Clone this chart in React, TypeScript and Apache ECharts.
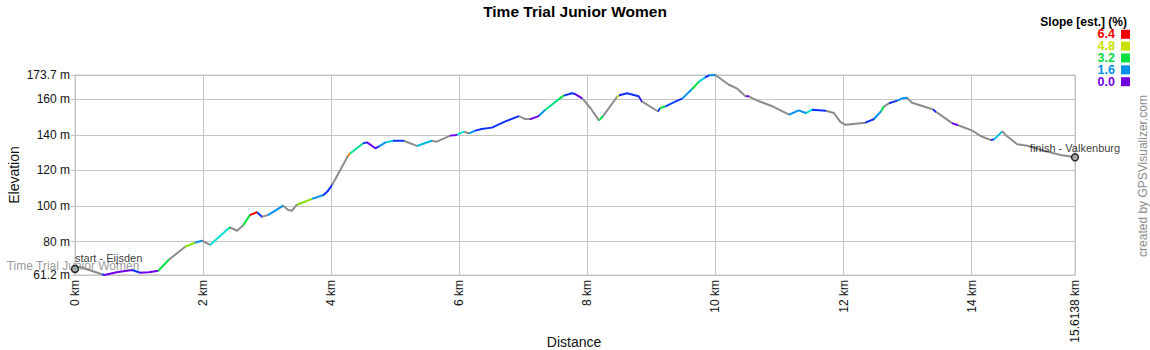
import { useEffect, useRef } from 'react';
import * as echarts from 'echarts';

// Distance along the route (km)
const distanceKm = [
  0.0, 0.07, 0.42, 0.46, 0.65, 0.89, 1.02, 1.15, 1.3, 1.46,
  1.72, 1.88, 1.98, 2.11, 2.4, 2.42, 2.53, 2.63, 2.73, 2.84,
  2.92, 3.02, 3.25, 3.33, 3.39, 3.46, 3.7, 3.88, 3.94, 4.01,
  4.27, 4.29, 4.5, 4.56, 4.69, 4.74, 4.85, 4.97, 5.13, 5.34,
  5.57, 5.65, 5.86, 5.96, 6.07, 6.15, 6.25, 6.35, 6.51, 6.72,
  6.93, 7.03, 7.11, 7.24, 7.34, 7.55, 7.63, 7.76, 7.81, 7.92,
  8.05, 8.18, 8.25, 8.46, 8.5, 8.62, 8.8, 8.85, 9.1, 9.14,
  9.22, 9.38, 9.48, 9.64, 9.74, 9.84, 9.9, 10.0, 10.21, 10.34,
  10.47, 10.52, 10.68, 10.89, 11.15, 11.3, 11.41, 11.51, 11.72, 11.85,
  11.95, 12.03, 12.34, 12.47, 12.58, 12.63, 12.71, 12.84, 12.92, 12.99,
  13.07, 13.39, 13.45, 13.7, 13.78, 14.01, 14.14, 14.3, 14.35, 14.48,
  14.53, 14.71, 14.87, 15.13, 15.39, 15.6138,
];

// Elevation (m)
const elevationM = [
  64.6, 65.8, 61.6, 61.2, 62.8, 64.0, 62.5, 62.7, 63.6, 69.6,
  77.1, 79.4, 80.5, 78.1, 87.5, 88.0, 86.1, 89.3, 94.9, 96.5,
  94.0, 95.0, 100.2, 97.8, 97.4, 100.6, 104.0, 106.2, 108.1, 111.6,
  128.7, 129.4, 135.3, 135.8, 132.5, 133.4, 135.8, 136.7, 136.7, 133.8,
  136.7, 136.2, 139.6, 140.0, 141.8, 140.9, 142.4, 143.3, 144.1, 147.6,
  150.6, 148.9, 148.9, 150.6, 154.0, 160.0, 162.1, 163.4, 163.0, 160.6,
  155.0, 148.2, 150.8, 161.2, 162.3, 163.4, 161.7, 158.9, 153.3, 155.1,
  156.1, 158.9, 160.4, 166.0, 169.8, 172.4, 173.5, 173.7, 168.2, 166.0,
  161.7, 161.7, 158.9, 156.1, 151.4, 153.8, 152.3, 154.2, 153.6, 152.3,
  147.3, 145.7, 146.9, 148.8, 153.0, 155.9, 157.8, 159.3, 160.6, 160.9,
  158.1, 154.4, 152.8, 146.5, 145.6, 142.4, 139.4, 137.1, 137.5, 142.0,
  139.9, 134.7, 133.9, 131.1, 128.7, 127.4,
];

// Estimated slope (%) of each segment, read from the line colours; null = grey
const segmentSlope: (number | null)[] = [
  2.4, null, 0.8, 0, 0, 0.8, 0, 0, 3.2, null,
  4.0, 1.6, null, 2.4, 3.2, null, null, 3.2, 6.4, 0.8,
  null, 1.6, null, null, null, 4.0, 1.6, 0.8, 0.8, null,
  5.6, 2.8, 0.8, 0, 0.4, 1.6, 2.2, 0.8, null, 2.0,
  null, null, 0, 2.4, null, 1.6, 0.8, 0.8, 0.8, 0.8,
  null, null, 0, 1.6, 2.8, 3.2, 0.8, 0.8, 0, null,
  null, 3.2, null, 4.8, 0.8, 0.8, 0.4, null, 0.8, 3.2,
  1.0, 0.8, 1.6, 3.2, 2.2, 0.8, 1.6, null, null, null,
  0, null, null, null, 1.6, 1.6, 2.4, 0.8, null, null,
  null, null, 0.8, 1.6, 3.2, null, 0.8, 1.6, 1.6, null,
  null, 0.8, null, 0, null, null, null, 0.8, 2.0, null,
  null, null, null, null, null,
];

const yTickValues = [61.2, 80, 100, 120, 140, 160, 173.7];
const legendSlopes = ['6.4', '4.8', '3.2', '1.6', '0.0'];
const legendColors = ['#ee0000', '#c8e000', '#00e040', '#0090e8', '#7000e0'];
const startName = 'start - Eijsden';
const finishName = 'finish - Valkenburg';
const trackName = 'Time Trial Junior Women';

const GRAY = '#8c8c8c';
const FONT = '"Liberation Sans", Arial, Helvetica, sans-serif';
const slopeStops: [number, string][] = [
  [0, '#7000f0'], [0.8, '#1030ff'], [1.6, '#0090f0'], [2.4, '#00e0d0'],
  [3.2, '#00e040'], [4.0, '#80e000'], [4.8, '#c8e000'], [5.6, '#ff8000'], [6.4, '#ff0000'],
];

function hexToRgb(h: string) {
  return [parseInt(h.slice(1, 3), 16), parseInt(h.slice(3, 5), 16), parseInt(h.slice(5, 7), 16)];
}
function slopeColor(s: number) {
  if (s <= slopeStops[0][0]) return slopeStops[0][1];
  for (let i = 1; i < slopeStops.length; i++) {
    if (s <= slopeStops[i][0]) {
      const [s0, c0] = slopeStops[i - 1];
      const [s1, c1] = slopeStops[i];
      const t = (s - s0) / (s1 - s0);
      const a = hexToRgb(c0);
      const b = hexToRgb(c1);
      const m = a.map((v, k) => Math.round(v + (b[k] - v) * t));
      return `rgb(${m[0]},${m[1]},${m[2]})`;
    }
  }
  return slopeStops[slopeStops.length - 1][1];
}

export default function App() {
  const ref = useRef<HTMLDivElement>(null);
  useEffect(() => {
    document.body.style.margin = '0';
    const chart = echarts.init(ref.current!, null, { renderer: 'svg' });
    const n = distanceKm.length;
    const lineData = distanceKm.map((d, i) => [d, elevationM[i]]);
    const pieces: any[] = segmentSlope.map((s, i) => {
      const p: any = { gte: distanceKm[i], color: s == null ? GRAY : slopeColor(s) };
      if (i === segmentSlope.length - 1) p.lte = distanceKm[i + 1];
      else p.lt = distanceKm[i + 1];
      return p;
    });

    const legendGraphics: any[] = [
      {
        type: 'text', x: 1127, y: 21.5,
        style: { text: 'Slope [est.] (%)', align: 'right', verticalAlign: 'middle', font: `bold 12px ${FONT}`, fill: '#000' },
      },
    ];
    legendSlopes.forEach((lab, i) => {
      const cy = 34.3 + i * 11.85;
      legendGraphics.push({
        type: 'text', x: 1115, y: cy,
        style: { text: lab, align: 'right', verticalAlign: 'middle', font: `bold 12.5px ${FONT}`, fill: legendColors[i] },
      });
      legendGraphics.push({
        type: 'rect', shape: { x: 1121, y: cy - 4.5, width: 9, height: 9 },
        style: { fill: legendColors[i] },
      });
    });
    legendGraphics.push({
      type: 'text', x: 1143, y: 176, rotation: Math.PI / 2,
      style: { text: 'created by GPSVisualizer.com', align: 'center', verticalAlign: 'middle', font: `12px ${FONT}`, fill: '#8a8a8a' },
    });
    legendGraphics.push({
      type: 'text', x: 574, y: 342,
      style: { text: 'Distance', align: 'center', verticalAlign: 'middle', font: `14px ${FONT}`, fill: '#111' },
    });
    legendGraphics.push({
      type: 'text', x: 14, y: 175, rotation: Math.PI / 2,
      style: { text: 'Elevation', align: 'center', verticalAlign: 'middle', font: `14px ${FONT}`, fill: '#111' },
    });

    const option: any = {
      animation: false,
      textStyle: { fontFamily: FONT },
      title: {
        text: trackName, left: 'center', top: 3, padding: 0,
        textStyle: { fontSize: 15.5, fontWeight: 'bold', color: '#000', fontFamily: FONT },
      },
      grid: {
        left: 75, right: 75, top: 75, bottom: 75, show: true,
        borderColor: '#c4c4c4', borderWidth: 1, outerBoundsMode: 'none',
      },
      visualMap: {
        type: 'piecewise', show: false, dimension: 0, seriesIndex: 0,
        pieces, outOfRange: { color: GRAY },
      },
      xAxis: {
        type: 'value', min: 0, max: distanceKm[n - 1], interval: 2,
        axisLine: { show: true, lineStyle: { color: '#c4c4c4' } },
        axisTick: { show: false },
        splitLine: { show: true, lineStyle: { color: '#c4c4c4', width: 1 } },
        axisLabel: {
          rotate: 90, margin: 5, fontSize: 12, color: '#111', fontFamily: FONT,
          formatter: (v: number) => `${v} km`,
        },
      },
      yAxis: {
        type: 'value', min: yTickValues[0], max: yTickValues[yTickValues.length - 1],
        axisLine: { show: true, lineStyle: { color: '#c4c4c4' } },
        axisTick: { show: true, length: 4, customValues: yTickValues, lineStyle: { color: '#c4c4c4' } },
        splitLine: { show: true, lineStyle: { color: '#c4c4c4', width: 1 } },
        axisLabel: {
          customValues: yTickValues, margin: 5, fontSize: 12, color: '#111', fontFamily: FONT,
          formatter: (v: number) => `${v} m`,
        },
      },
      series: [
        {
          type: 'line', data: lineData, showSymbol: false, smooth: false,
          lineStyle: { width: 2 }, z: 2,
        },
        {
          type: 'scatter', symbol: 'circle', symbolSize: 7, z: 4,
          itemStyle: { color: '#a0a0a0', borderColor: '#000', borderWidth: 1.5 },
          data: [
            {
              value: [distanceKm[0], elevationM[0]],
              label: {
                show: true, formatter: startName, position: 'top', align: 'left', distance: 1,
                offset: [0, 0], fontSize: 11, color: '#000', fontFamily: FONT,
              },
            },
            {
              value: [distanceKm[n - 1], elevationM[n - 1]],
              label: {
                show: true, formatter: finishName, position: 'top', distance: 0,
                fontSize: 11, color: '#000', fontFamily: FONT,
              },
            },
          ],
        },
        {
          type: 'scatter', symbolSize: 1, z: 3,
          itemStyle: { color: 'transparent' },
          data: [
            {
              value: [distanceKm[0], elevationM[0]],
              label: {
                show: true, formatter: trackName, position: 'inside', offset: [-2, -3],
                fontSize: 12, color: '#808080', fontFamily: FONT,
              },
            },
          ],
        },
      ],
      graphic: legendGraphics,
    };
    chart.setOption(option);
    return () => chart.dispose();
  }, []);
  return <div ref={ref} style={{ width: 1150, height: 350 }} />;
}
